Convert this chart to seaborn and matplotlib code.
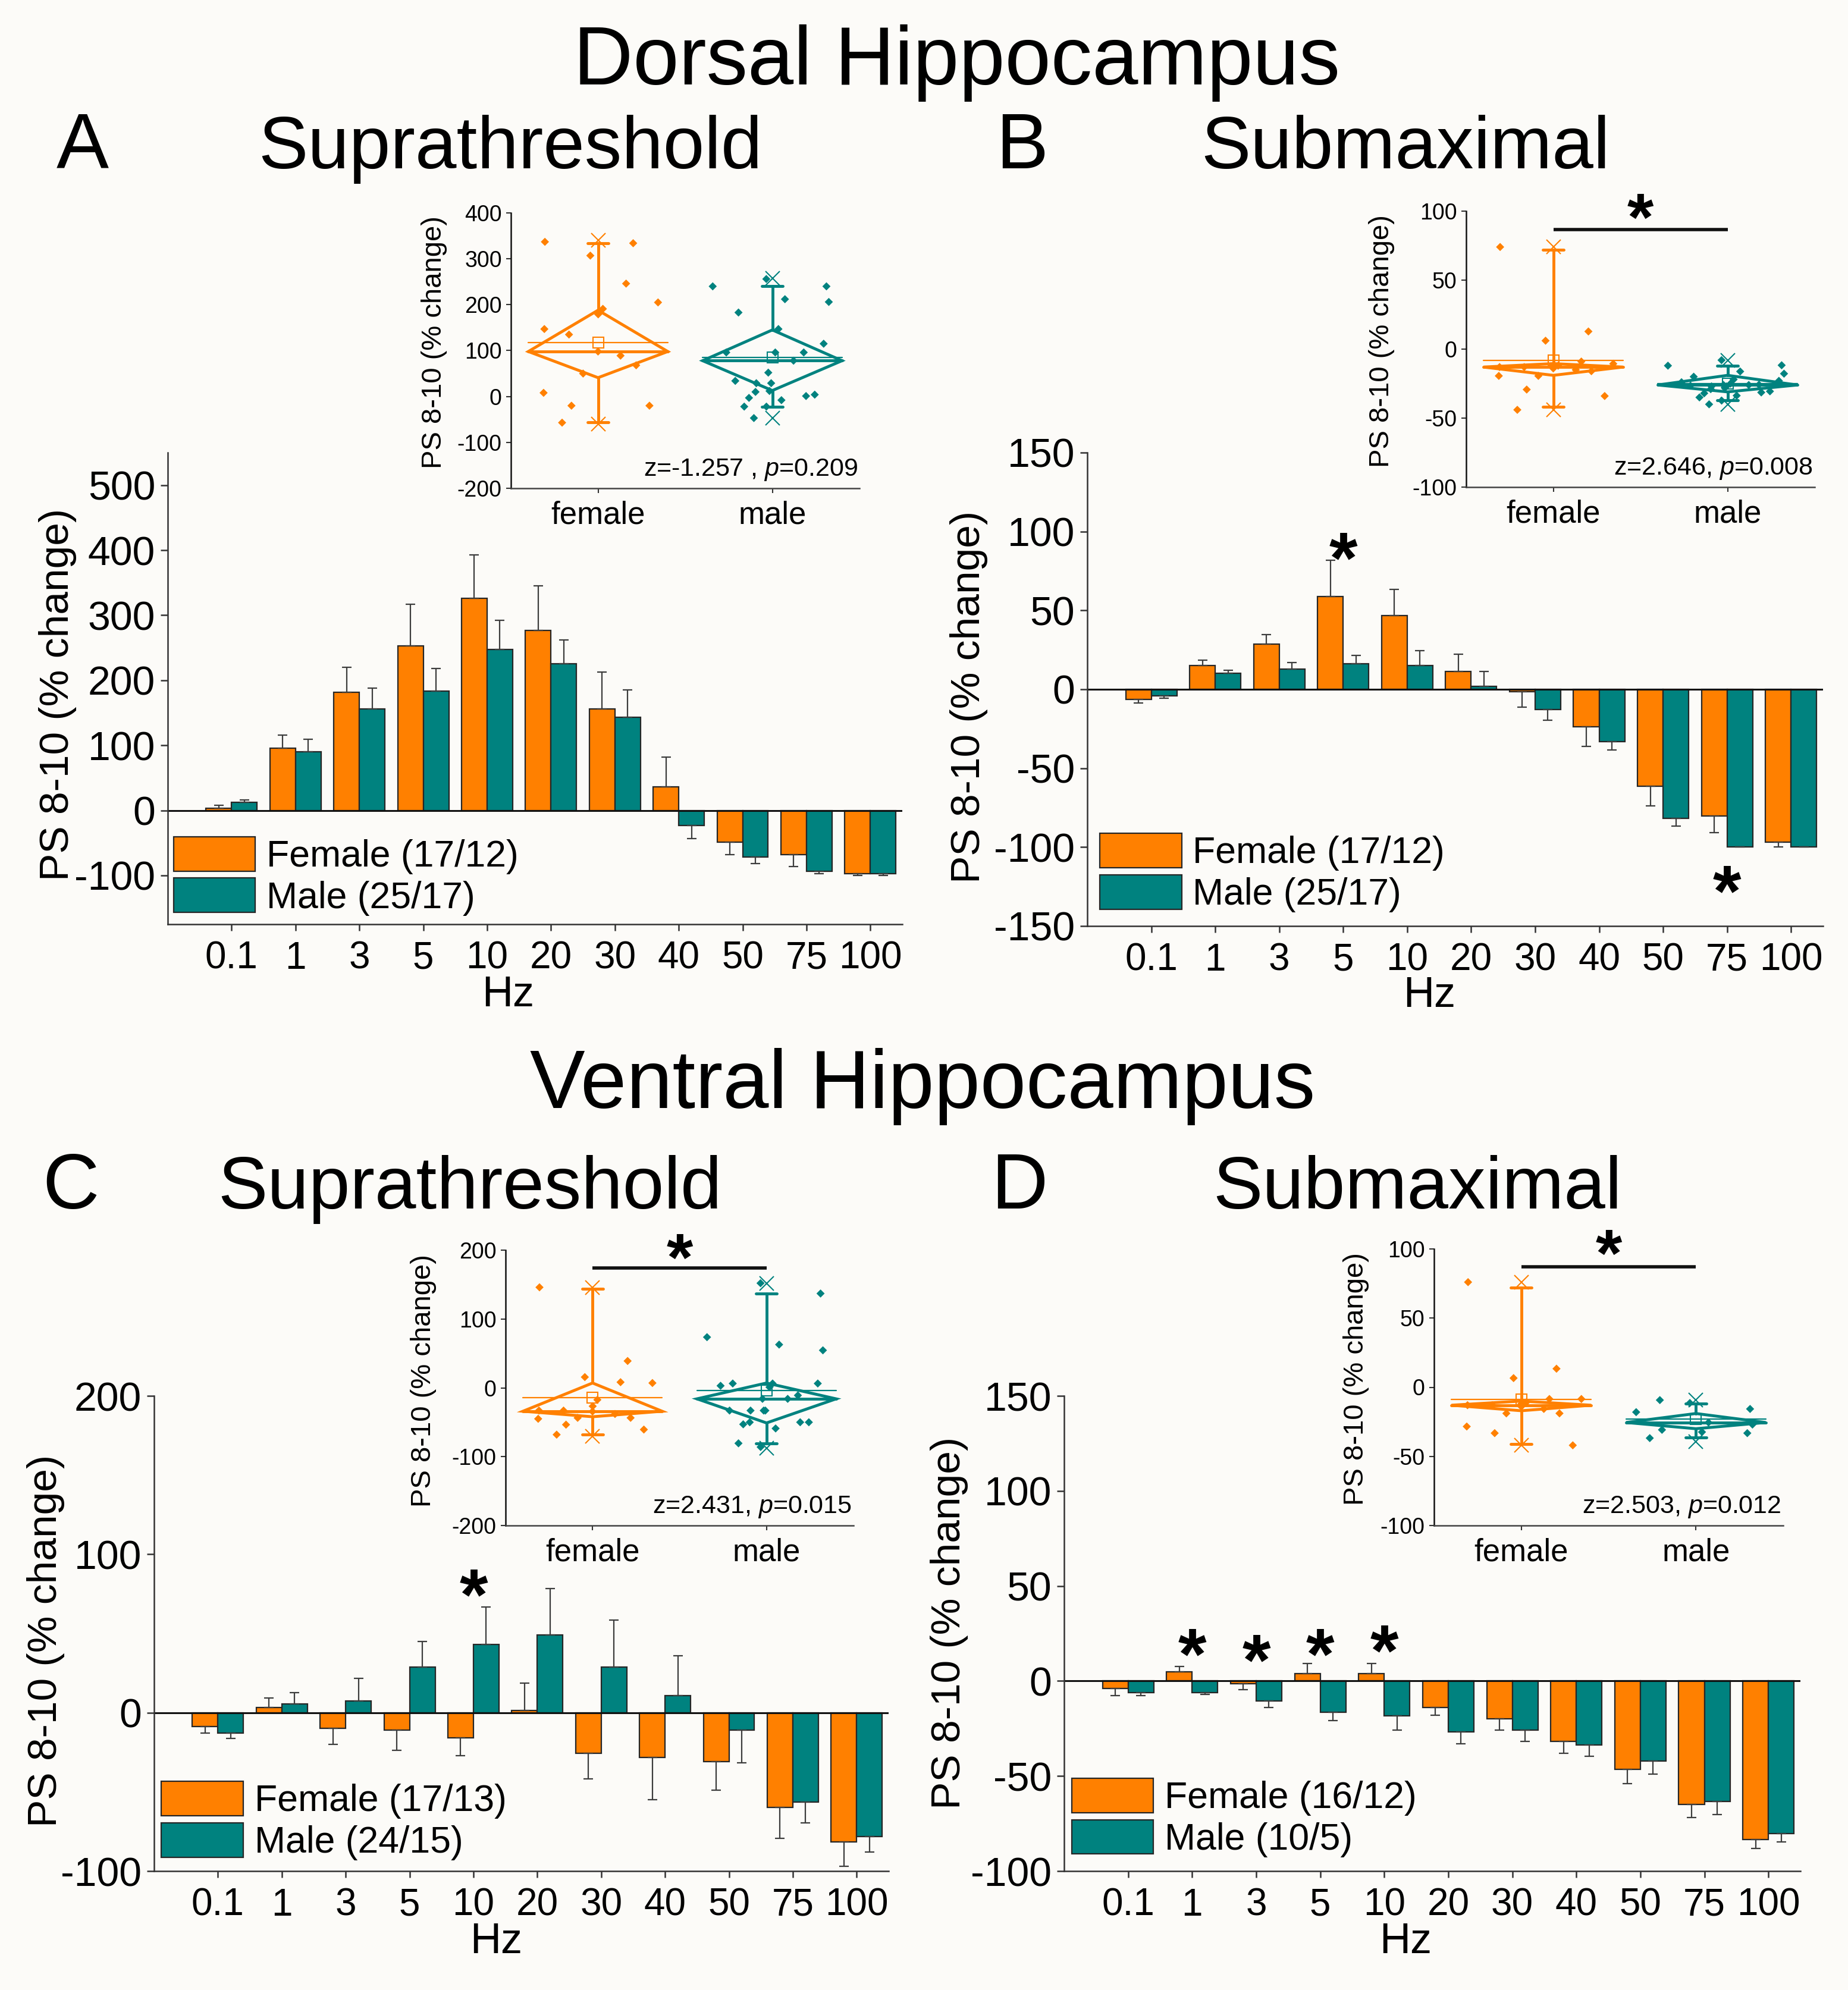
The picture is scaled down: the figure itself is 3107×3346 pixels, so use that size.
import numpy as np
import pandas as pd
import matplotlib
matplotlib.use('Agg')
import matplotlib.pyplot as plt
import seaborn as sns

# ---------------- data ----------------
hz = ['0.1', '1', '3', '5', '10', '20', '30', '40', '50', '75', '100']

# A: dorsal, suprathreshold
a_female = [3, 96, 182, 253, 326, 277, 156, 36, -49, -68, -97]
a_female_err = [5, 20, 38, 64, 67, 68, 57, 46, 19, 18, 3]
a_male = [12, 90, 156, 183, 247, 225, 143, -23, -72, -94, -97]
a_male_err = [4, 19, 32, 35, 45, 37, 42, 20, 10, 3, 3]
a_labels = ['Female (17/12)', 'Male (25/17)']

# B: dorsal, submaximal
b_female = [-6.3, 15.1, 28.6, 58.9, 46.9, 11.3, -1.4, -23.8, -61.5, -80.3, -96.9]
b_female_err = [2.5, 3.4, 6, 23, 16.6, 11, 10, 12.5, 12.5, 10.6, 3]
b_male = [-4.3, 10.1, 13, 16.1, 15.1, 1.9, -12.7, -33.2, -81.7, -100, -100]
b_male_err = [1.2, 2, 4, 5.3, 9.4, 9.4, 7, 5.3, 4.8, 0, 0]
b_labels = ['Female (17/12)', 'Male (25/17)']
b_star_idx = [3, 9]
b_star_y = [94, -117]

# C: ventral, suprathreshold
c_female = [-8.7, 3.1, -9.9, -11, -15.8, 1.5, -25.5, -28.3, -30.9, -59.7, -81.6]
c_female_err = [4.3, 6, 10, 12.8, 11.5, 17.3, 16.3, 26.5, 18, 19.6, 15.3]
c_male = [-13, 5.6, 7.4, 28.8, 43.1, 49, 28.8, 10.7, -11.2, -56.6, -78.3]
c_male_err = [3.3, 6.9, 14.3, 16.3, 23.5, 29.3, 29.6, 25.3, 20.4, 13, 9.5]
c_labels = ['Female (17/13)', 'Male (24/15)']
c_star_idx = [4]
c_star_y = [85]

# D: ventral, submaximal
d_female = [-3.8, 4.9, -1.5, 4, 4, -13.8, -20, -31.7, -46.4, -64.9, -83.4]
d_female_err = [3.8, 2.8, 3, 5.3, 5.3, 4.3, 6, 6.2, 7.7, 6.8, 4.7]
d_male = [-6.2, -6.2, -10.6, -16.6, -18.3, -26.8, -26, -33.6, -42.1, -63.4, -80.4]
d_male_err = [1.5, 0.9, 3.2, 4.3, 7.7, 6.2, 5.7, 6, 6.8, 6.8, 4.3]
d_labels = ['Female (16/12)', 'Male (10/5)']
d_star_idx = [1, 2, 3, 4]
d_star_y = [23, 20, 23, 25]

# insets: individual values and box stats
# stats: min, whisker low, q1, median, mean, q3, whisker high, max
sexes = ['female', 'male']
a_in_female = [337, 334, 307, 246, 205, 191, 179, 147, 135, 98, 89, 68, 50, 8, -20, -20, -57]
a_in_male = [256, 240, 240, 212, 206, 183, 147, 115, 96, 96, 96, 78, 52, 34, 29, 29,
             12, 10, 4, 1, -3, -8, -22, -22, -47]
a_in_female_stats = [-60, -56, 41, 98, 117, 188, 334, 340]
a_in_male_stats = [-47, -22, 13, 78, 85, 145, 240, 257]
a_in_text = 'z=-1.257 , $p$=0.209'

b_in_female = [74, 12.8, 6.1, -9, -10.6, -12, -13, -13, -13, -14, -15, -16, -19.4, -19.4,
               -29.3, -34, -44]
b_in_male = [-8, -11.7, -12, -16.2, -17.8, -20, -22, -23, -24, -25, -25.8, -26, -26, -26.5,
             -27, -27, -28, -29, -30.6, -31.4, -32, -33.7, -35, -37.3, -40]
b_in_female_stats = [-44, -42, -19, -13, -8.2, -10.5, 72, 74]
b_in_male_stats = [-40, -37, -31, -26, -25, -19, -12, -8]
b_in_text = 'z=2.646, $p$=0.008'
b_in_sig = [86.6, 100]

c_in_female = [146, 39, 15.6, 8.2, 7, -17.4, -26.7, -33, -33, -34.4, -38, -43.6, -43.6, -45,
               -53.5, -60.6, -68]
c_in_male = [152, 137, 73.6, 62.8, 54.5, 6.3, 6.3, 6.3, 3, 1, -11, -16, -16, -33, -33, -33,
             -33, -50, -50, -50, -53, -59, -80.6, -86]
c_in_female_stats = [-70, -68, -42, -34, -14, 7, 144, 146]
c_in_male_stats = [-88, -81, -51, -16, -4, 7, 137, 152]
c_in_text = 'z=2.431, $p$=0.015'
c_in_sig = [174, 198]

d_in_female = [76, 13.4, 6.6, -8.5, -8.5, -11, -12, -13, -13, -14, -15.7, -18.9, -18.9,
               -28.4, -33.2, -42]
d_in_male = [-9.3, -11.4, -15.7, -18, -25.5, -27, -30.8, -32.4, -33.2, -36.8]
d_in_female_stats = [-42, -41, -17, -13, -9, -10, 72, 76]
d_in_male_stats = [-39.5, -36.4, -30, -25.5, -23, -19, -11.7, -9.3]
d_in_text = 'z=2.503, $p$=0.012'
d_in_sig = [87, 101]

# ---------------- style ----------------
sns.set_style('ticks')
plt.rcParams['font.family'] = ['Liberation Sans', 'DejaVu Sans']
plt.rcParams['mathtext.fontset'] = 'custom'
plt.rcParams['mathtext.rm'] = 'Liberation Sans'
plt.rcParams['mathtext.it'] = 'Liberation Sans:italic'
plt.rcParams['axes.unicode_minus'] = False
plt.rcParams['text.color'] = 'black'
plt.rcParams['axes.labelcolor'] = 'black'
plt.rcParams['xtick.color'] = 'black'
plt.rcParams['ytick.color'] = 'black'

ORANGE = '#FF8000'
TEAL = '#00827F'
BG = '#FCFBF8'
EDGE = '#262626'
AX = '#333333'

W, H = 3107, 3346
fig = plt.figure(figsize=(W / 100, H / 100), dpi=100, facecolor=BG)


def rect(l, t, r, b):
    return [l / W, 1 - b / H, (r - l) / W, (b - t) / H]


def star(ax, x, y, size=88, drop=27):
    ax.annotate('*', (x, y), xytext=(0, -drop), textcoords='offset points', ha='center',
                va='center', fontsize=size, fontweight='bold', annotation_clip=False)


def bar_panel(ax, fem, fem_err, mal, mal_err, labels, ylim, yticks, leg_at,
              ylab_xy, xlab_xy, star_idx=(), star_y=()):
    df = pd.DataFrame({'hz': hz * 2, 'val': fem + mal,
                       'grp': [labels[0]] * len(hz) + [labels[1]] * len(hz)})
    sns.barplot(data=df, x='hz', y='val', hue='grp', order=hz, hue_order=labels,
                palette=[ORANGE, TEAL], errorbar=None, width=0.8, saturation=1,
                edgecolor=EDGE, linewidth=1.6, ax=ax, zorder=2)
    # one-sided error bars (away from zero)
    for cont, vals, errs in zip(ax.containers, [fem, mal], [fem_err, mal_err]):
        for patch, v, e in zip(cont, vals, errs):
            x = patch.get_x() + patch.get_width() / 2
            lo, up = (0, e) if v >= 0 else (e, 0)
            ax.errorbar(x, v, yerr=[[lo], [up]], fmt='none', ecolor='#3c3c3c',
                        elinewidth=1.6, capsize=6, capthick=1.6, zorder=3)
    ax.axhline(0, color='#111111', lw=2.2, zorder=2.5)
    ax.set_xlim(-1.0, 10.5)
    ax.set_ylim(*ylim)
    ax.set_yticks(yticks)
    ax.set_facecolor('none')
    sns.despine(ax=ax)
    for s in ['left', 'bottom']:
        ax.spines[s].set_linewidth(1.8)
        ax.spines[s].set_color(AX)
    ax.tick_params(axis='y', labelsize=49, length=9, width=1.8, pad=6, color=AX)
    ax.tick_params(axis='x', labelsize=46, length=8, width=1.8, pad=12, color=AX)
    ax.set_xlabel('Hz', fontsize=52)
    ax.xaxis.label.set_va('center')
    ax.xaxis.set_label_coords(*xlab_xy)
    ax.set_ylabel('PS 8-10 (% change)', fontsize=50)
    ax.yaxis.label.set_va('center')
    ax.yaxis.set_label_coords(*ylab_xy)
    old = ax.get_legend()
    handles = old.legend_handles
    leg = ax.legend(handles, labels, loc='lower left', bbox_to_anchor=leg_at,
                    frameon=False, fontsize=45, handlelength=2.2, handleheight=1.05,
                    labelspacing=0.1, handletextpad=0.3, borderpad=0, borderaxespad=0)
    for h in leg.legend_handles:
        h.set_edgecolor(EDGE)
        h.set_linewidth(1.6)
    for i, y in zip(star_idx, star_y):
        star(ax, i, y)


def inset(box, fpts, mpts, fstats, mstats, ylim, yticks, ztext, ylab_xy, sig=None):
    ax = fig.add_axes(rect(*box))
    ax.set_facecolor('none')
    df = pd.DataFrame({'sex': [sexes[0]] * len(fpts) + [sexes[1]] * len(mpts),
                       'val': fpts + mpts})
    np.random.seed(7)
    sns.stripplot(data=df, x='sex', y='val', hue='sex', order=sexes, hue_order=sexes,
                  palette=[ORANGE, TEAL], jitter=0.36, marker='D', size=7, linewidth=0,
                  ax=ax, legend=False, zorder=3)
    for i, (st, c) in enumerate(zip([fstats, mstats], [ORANGE, TEAL])):
        mn, wlo, q1, med, mean, q3, whi, mx = st
        ax.plot([i, i + 0.4, i, i - 0.4, i], [q3, med, q1, med, q3], color=c, lw=3.5,
                solid_joinstyle='miter', zorder=4)
        ax.plot([i - 0.4, i + 0.4], [med, med], color=c, lw=3.5, zorder=4)
        ax.plot([i - 0.4, i + 0.4], [mean, mean], color=c, lw=1.6, zorder=4)
        ax.plot([i, i], [q3, whi], color=c, lw=3.5, zorder=4)
        ax.plot([i, i], [q1, wlo], color=c, lw=3.5, zorder=4)
        for w in (wlo, whi):
            ax.plot([i - 0.06, i + 0.06], [w, w], color=c, lw=3.5, zorder=4)
        ax.plot([i, i], [mn, mx], ls='none', marker='x', ms=17, mew=1.5, color=c, zorder=5)
        ax.plot([i], [mean], ls='none', marker='s', ms=13, mfc='none', mec=c, mew=1.5,
                zorder=5)
    ax.set_xlim(-0.5, 1.5)
    ax.set_ylim(*ylim)
    ax.set_yticks(yticks)
    sns.despine(ax=ax)
    ax.spines['left'].set_color('#111111')
    ax.spines['bottom'].set_color('#444444')
    for s in ['left', 'bottom']:
        ax.spines[s].set_linewidth(1.8)
    ax.tick_params(axis='y', labelsize=27, length=6, width=1.5, pad=5, color=AX)
    ax.tick_params(axis='x', labelsize=38, length=6, width=1.5, pad=9, color=AX)
    ax.set_xlabel('')
    ax.set_ylabel('PS 8-10 (% change)', fontsize=34)
    ax.yaxis.label.set_va('center')
    ax.yaxis.set_label_coords(*ylab_xy)
    ax.text(0.995, 0.045, ztext, transform=ax.transAxes, ha='right', va='baseline',
            fontsize=31)
    if sig is not None:
        ax.plot([0, 1], [sig[0], sig[0]], color='#111111', lw=4, clip_on=False,
                solid_capstyle='butt')
        star(ax, 0.5, sig[1], size=82, drop=14)
    return ax


# ---------------- main panels ----------------
ax_a = fig.add_axes(rect(282, 761, 1517, 1554))
bar_panel(ax_a, a_female, a_female_err, a_male, a_male_err, a_labels,
          (-175, 550), np.arange(-100, 501, 100), (0.008, 0.018),
          (-0.150, 0.487), (0.463, -0.151))

ax_b = fig.add_axes(rect(1828, 761, 3065, 1557))
bar_panel(ax_b, b_female, b_female_err, b_male, b_male_err, b_labels,
          (-150, 150), np.arange(-150, 151, 50), (0.017, 0.029),
          (-0.161, 0.484), (0.465, -0.147), b_star_idx, b_star_y)

ax_c = fig.add_axes(rect(259, 2347, 1494, 3146))
bar_panel(ax_c, c_female, c_female_err, c_male, c_male_err, c_labels,
          (-100, 200), np.arange(-100, 201, 100), (0.010, 0.0225),
          (-0.147, 0.484), (0.466, -0.150), c_star_idx, c_star_y)

ax_d = fig.add_axes(rect(1789, 2347, 3027, 3146))
bar_panel(ax_d, d_female, d_female_err, d_male, d_male_err, d_labels,
          (-100, 150), np.arange(-100, 151, 50), (0.0105, 0.029),
          (-0.156, 0.522), (0.464, -0.150), d_star_idx, d_star_y)

# ---------------- insets ----------------
inset((859, 358, 1445, 821), a_in_female, a_in_male, a_in_female_stats, a_in_male_stats,
      (-200, 400), np.arange(-200, 401, 100), a_in_text, (-0.22, 0.53))
inset((2465, 355, 3051, 819), b_in_female, b_in_male, b_in_female_stats, b_in_male_stats,
      (-100, 100), np.arange(-100, 101, 50), b_in_text, (-0.242, 0.528), b_in_sig)
inset((850, 2102, 1435, 2565), c_in_female, c_in_male, c_in_female_stats, c_in_male_stats,
      (-200, 200), np.arange(-200, 201, 100), c_in_text, (-0.236, 0.525), c_in_sig)
inset((2411, 2100, 2998, 2565), d_in_female, d_in_male, d_in_female_stats, d_in_male_stats,
      (-100, 100), np.arange(-100, 101, 50), d_in_text, (-0.223, 0.529), d_in_sig)

# ---------------- titles ----------------
def ftext(x, y, s, size):
    fig.text(x / W, 1 - y / H, s, ha='center', va='baseline', fontsize=size)


ftext(1608, 142, 'Dorsal Hippocampus', 100)
ftext(139, 283, 'A', 95)
ftext(858, 283, 'Suprathreshold', 90)
ftext(1718, 283, 'B', 95)
ftext(2363, 283, 'Submaximal', 90)
ftext(1551, 1863, 'Ventral Hippocampus', 100)
ftext(119, 2032, 'C', 95)
ftext(790, 2032, 'Suprathreshold', 90)
ftext(1714, 2032, 'D', 95)
ftext(2383, 2032, 'Submaximal', 90)

fig.savefig('out.png', dpi=100, facecolor=BG)
